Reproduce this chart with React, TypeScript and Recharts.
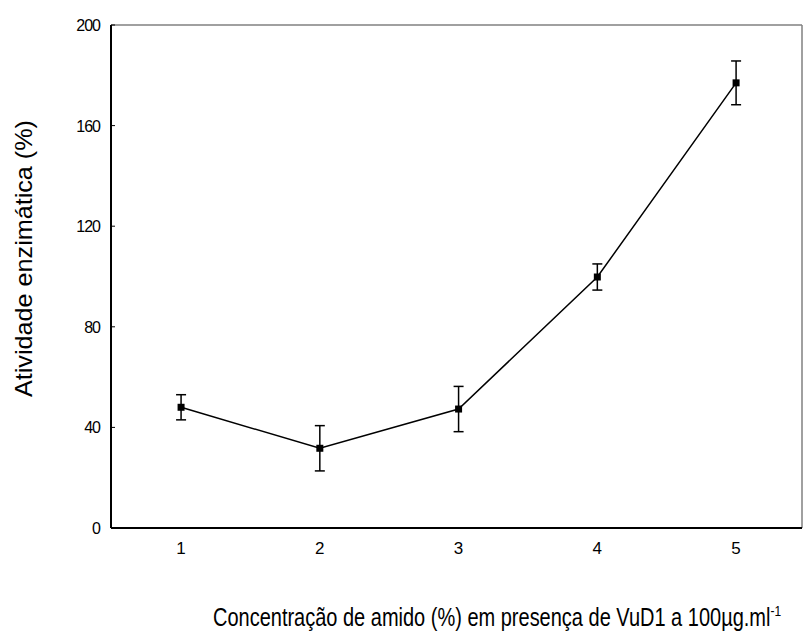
import React from 'react';
import { LineChart, Line, XAxis, YAxis, ErrorBar, ReferenceLine } from 'recharts';

const concentrations = [1, 2, 3, 4, 5];
const activity = [48, 31.7, 47.3, 99.8, 177];
const errors = [5, 9, 9, 5.2, 8.7];
const yTicks = [0, 40, 80, 120, 160, 200];
const xTicks = [1, 2, 3, 4, 5];

const data = concentrations.map((c, i) => ({ x: c, y: activity[i], err: errors[i] }));

const FONT = '"Liberation Sans", Arial, sans-serif';

const SquareDot = (props: any) => {
  const { cx, cy } = props;
  if (cx == null || cy == null) return null;
  return <rect x={cx - 3.5} y={cy - 3.5} width={7} height={7} fill="#000" />;
};

const YTick = (props: any) => {
  const { x, y, payload } = props;
  const axisX = x + 10;
  return (
    <g>
      <line x1={axisX} x2={axisX + 4} y1={y} y2={y} stroke="#000" strokeWidth={1} />
      <text x={x - 1} y={y} dy={6} textAnchor="end" fontFamily={FONT} fontSize={16} fill="#000" letterSpacing={-1}>
        {payload.value}
      </text>
    </g>
  );
};

const XTick = (props: any) => {
  const { x, y, payload } = props;
  return (
    <text x={x} y={y} dy={14} textAnchor="middle" fontFamily={FONT} fontSize={17} fill="#000">
      {payload.value}
    </text>
  );
};

export default function App() {
  return (
    <div style={{ position: 'absolute', left: 0, top: 0, background: '#fff' }}>
      <LineChart width={805} height={642} data={data} margin={{ top: 25, right: 3, bottom: 84, left: 0 }}>
        <XAxis
          dataKey="x"
          type="number"
          domain={[0.495, 5.475]}
          ticks={xTicks}
          allowDataOverflow
          height={30}
          axisLine={{ stroke: '#000', strokeWidth: 2 }}
          tickLine={false}
          tickSize={0}
          tickMargin={12}
          tick={<XTick />}
          label={{
            content: () => (
              <text x={0} y={0} transform="translate(213 626) scale(1 1.25)" fontFamily={FONT} fontSize={20} fill="#000">
                Concentração de amido (%) em presença de VuD1 a 100µg.ml
                <tspan dy={-8} fontSize={12}>-1</tspan>
              </text>
            ),
          }}
        />
        <YAxis
          type="number"
          domain={[0, 200]}
          ticks={yTicks}
          width={111}
          axisLine={{ stroke: '#000', strokeWidth: 2 }}
          tickLine={false}
          tickSize={0}
          tickMargin={10}
          tick={<YTick />}
          label={{
            content: () => (
              <text
                x={0}
                y={0}
                transform="translate(32 258.5) rotate(-90)"
                textAnchor="middle"
                fontFamily={FONT}
                fontSize={24}
                fill="#000"
                textLength={277}
                lengthAdjust="spacingAndGlyphs"
              >
                Atividade enzimática (%)
              </text>
            ),
          }}
        />
        <ReferenceLine y={200} stroke="#808080" strokeWidth={1.5} />
        <ReferenceLine x={5.475} stroke="#808080" strokeWidth={1.5} />
        <Line
          dataKey="y"
          stroke="#000"
          strokeWidth={1.5}
          dot={<SquareDot />}
          activeDot={false}
          isAnimationActive={false}
        >
          <ErrorBar dataKey="err" width={5} stroke="#000" strokeWidth={1.5} direction="y" />
        </Line>
      </LineChart>
    </div>
  );
}
